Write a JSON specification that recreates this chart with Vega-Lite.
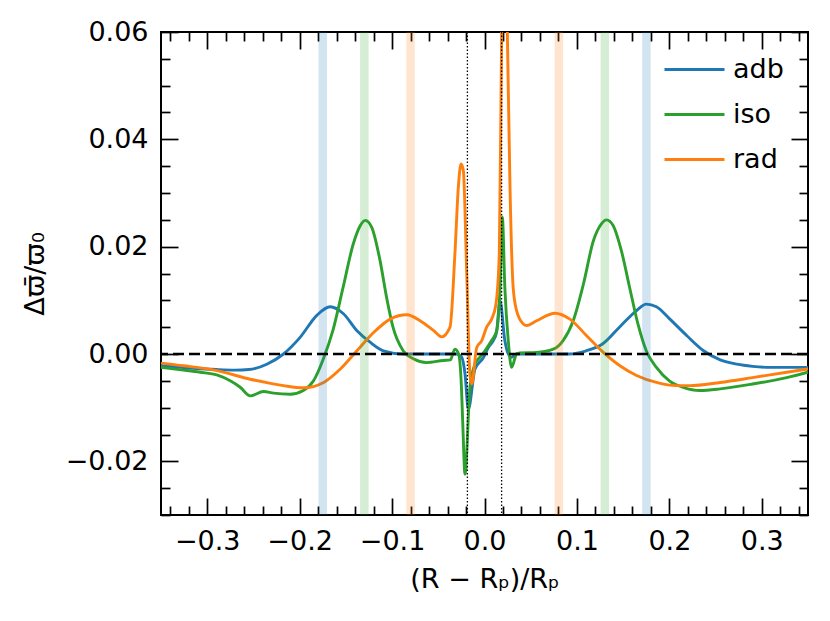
{
  "$schema": "https://vega.github.io/schema/vega-lite/v6.json",
  "width": 647,
  "height": 483,
  "autosize": "none",
  "padding": {"left": 161, "top": 32, "right": 22, "bottom": 106},
  "background": "white",
  "datasets": {
    "curves": [
      {"x": -0.35, "y": -0.0022, "model": "adb"},
      {"x": -0.32, "y": -0.0026, "model": "adb"},
      {"x": -0.29, "y": -0.0029, "model": "adb"},
      {"x": -0.27, "y": -0.003, "model": "adb"},
      {"x": -0.255, "y": -0.0029, "model": "adb"},
      {"x": -0.2355, "y": -0.0019, "model": "adb"},
      {"x": -0.2175, "y": 0.0, "model": "adb"},
      {"x": -0.1995, "y": 0.0031, "model": "adb"},
      {"x": -0.1814, "y": 0.0072, "model": "adb"},
      {"x": -0.167, "y": 0.0088, "model": "adb"},
      {"x": -0.1526, "y": 0.0075, "model": "adb"},
      {"x": -0.1382, "y": 0.0044, "model": "adb"},
      {"x": -0.1238, "y": 0.0022, "model": "adb"},
      {"x": -0.1094, "y": 0.0006, "model": "adb"},
      {"x": -0.0877, "y": 0.0, "model": "adb"},
      {"x": -0.05, "y": 0.0, "model": "adb"},
      {"x": -0.03, "y": 0.0, "model": "adb"},
      {"x": -0.0247, "y": -0.0006, "model": "adb"},
      {"x": -0.0211, "y": -0.0037, "model": "adb"},
      {"x": -0.0175, "y": -0.0103, "model": "adb"},
      {"x": -0.0103, "y": -0.0028, "model": "adb"},
      {"x": -0.0013, "y": -0.0007, "model": "adb"},
      {"x": 0.0041, "y": 0.0012, "model": "adb"},
      {"x": 0.0095, "y": 0.0025, "model": "adb"},
      {"x": 0.013, "y": 0.004, "model": "adb"},
      {"x": 0.0168, "y": 0.0099, "model": "adb"},
      {"x": 0.022, "y": 0.0025, "model": "adb"},
      {"x": 0.0257, "y": 0.0, "model": "adb"},
      {"x": 0.029, "y": -0.0006, "model": "adb"},
      {"x": 0.0347, "y": 0.0, "model": "adb"},
      {"x": 0.06, "y": 0.0, "model": "adb"},
      {"x": 0.092, "y": 0.0, "model": "adb"},
      {"x": 0.11, "y": 0.0006, "model": "adb"},
      {"x": 0.128, "y": 0.0019, "model": "adb"},
      {"x": 0.146, "y": 0.005, "model": "adb"},
      {"x": 0.1645, "y": 0.0081, "model": "adb"},
      {"x": 0.175, "y": 0.0093, "model": "adb"},
      {"x": 0.186, "y": 0.0088, "model": "adb"},
      {"x": 0.2, "y": 0.0066, "model": "adb"},
      {"x": 0.219, "y": 0.0034, "model": "adb"},
      {"x": 0.237, "y": 0.0006, "model": "adb"},
      {"x": 0.255, "y": -0.0011, "model": "adb"},
      {"x": 0.273, "y": -0.0019, "model": "adb"},
      {"x": 0.29, "y": -0.0023, "model": "adb"},
      {"x": 0.309, "y": -0.0025, "model": "adb"},
      {"x": 0.35, "y": -0.0025, "model": "adb"},

      {"x": -0.35, "y": -0.0025, "model": "iso"},
      {"x": -0.3256, "y": -0.003, "model": "iso"},
      {"x": -0.3076, "y": -0.0034, "model": "iso"},
      {"x": -0.2896, "y": -0.0039, "model": "iso"},
      {"x": -0.2751, "y": -0.005, "model": "iso"},
      {"x": -0.2643, "y": -0.0062, "model": "iso"},
      {"x": -0.2535, "y": -0.0078, "model": "iso"},
      {"x": -0.2391, "y": -0.007, "model": "iso"},
      {"x": -0.2283, "y": -0.0073, "model": "iso"},
      {"x": -0.2103, "y": -0.0075, "model": "iso"},
      {"x": -0.196, "y": -0.0068, "model": "iso"},
      {"x": -0.185, "y": -0.005, "model": "iso"},
      {"x": -0.175, "y": -0.0012, "model": "iso"},
      {"x": -0.164, "y": 0.0044, "model": "iso"},
      {"x": -0.153, "y": 0.0124, "model": "iso"},
      {"x": -0.142, "y": 0.0205, "model": "iso"},
      {"x": -0.1345, "y": 0.0239, "model": "iso"},
      {"x": -0.129, "y": 0.0249, "model": "iso"},
      {"x": -0.122, "y": 0.0236, "model": "iso"},
      {"x": -0.113, "y": 0.0174, "model": "iso"},
      {"x": -0.106, "y": 0.0106, "model": "iso"},
      {"x": -0.099, "y": 0.005, "model": "iso"},
      {"x": -0.088, "y": 0.0006, "model": "iso"},
      {"x": -0.077, "y": -0.0009, "model": "iso"},
      {"x": -0.0625, "y": -0.0016, "model": "iso"},
      {"x": -0.0445, "y": -0.0012, "model": "iso"},
      {"x": -0.037, "y": -0.0011, "model": "iso"},
      {"x": -0.032, "y": 0.0009, "model": "iso"},
      {"x": -0.028, "y": 0.0, "model": "iso"},
      {"x": -0.025, "y": -0.006, "model": "iso"},
      {"x": -0.0235, "y": -0.013, "model": "iso"},
      {"x": -0.0211, "y": -0.0224, "model": "iso"},
      {"x": -0.0157, "y": -0.0062, "model": "iso"},
      {"x": -0.0103, "y": -0.0019, "model": "iso"},
      {"x": -0.0049, "y": -0.0006, "model": "iso"},
      {"x": 0.0005, "y": 0.0006, "model": "iso"},
      {"x": 0.0077, "y": 0.0025, "model": "iso"},
      {"x": 0.0131, "y": 0.0043, "model": "iso"},
      {"x": 0.0168, "y": 0.0124, "model": "iso"},
      {"x": 0.0193, "y": 0.0255, "model": "iso"},
      {"x": 0.022, "y": 0.0124, "model": "iso"},
      {"x": 0.0257, "y": 0.0025, "model": "iso"},
      {"x": 0.0293, "y": -0.0025, "model": "iso"},
      {"x": 0.0347, "y": 0.0, "model": "iso"},
      {"x": 0.038, "y": 0.0002, "model": "iso"},
      {"x": 0.0564, "y": 0.0003, "model": "iso"},
      {"x": 0.0744, "y": 0.0009, "model": "iso"},
      {"x": 0.085, "y": 0.0025, "model": "iso"},
      {"x": 0.096, "y": 0.0062, "model": "iso"},
      {"x": 0.107, "y": 0.013, "model": "iso"},
      {"x": 0.1178, "y": 0.0211, "model": "iso"},
      {"x": 0.1267, "y": 0.0243, "model": "iso"},
      {"x": 0.132, "y": 0.025, "model": "iso"},
      {"x": 0.139, "y": 0.024, "model": "iso"},
      {"x": 0.148, "y": 0.0193, "model": "iso"},
      {"x": 0.157, "y": 0.0124, "model": "iso"},
      {"x": 0.166, "y": 0.0056, "model": "iso"},
      {"x": 0.175, "y": 0.0006, "model": "iso"},
      {"x": 0.186, "y": -0.0025, "model": "iso"},
      {"x": 0.2, "y": -0.005, "model": "iso"},
      {"x": 0.215, "y": -0.0062, "model": "iso"},
      {"x": 0.233, "y": -0.0068, "model": "iso"},
      {"x": 0.255, "y": -0.0065, "model": "iso"},
      {"x": 0.29, "y": -0.0056, "model": "iso"},
      {"x": 0.327, "y": -0.0044, "model": "iso"},
      {"x": 0.35, "y": -0.0034, "model": "iso"},

      {"x": -0.35, "y": -0.0017, "model": "rad"},
      {"x": -0.3256, "y": -0.0022, "model": "rad"},
      {"x": -0.2896, "y": -0.0031, "model": "rad"},
      {"x": -0.2535, "y": -0.0047, "model": "rad"},
      {"x": -0.2175, "y": -0.0059, "model": "rad"},
      {"x": -0.196, "y": -0.0063, "model": "rad"},
      {"x": -0.174, "y": -0.0053, "model": "rad"},
      {"x": -0.156, "y": -0.0028, "model": "rad"},
      {"x": -0.138, "y": 0.0006, "model": "rad"},
      {"x": -0.12, "y": 0.004, "model": "rad"},
      {"x": -0.102, "y": 0.0065, "model": "rad"},
      {"x": -0.084, "y": 0.0073, "model": "rad"},
      {"x": -0.0697, "y": 0.0062, "model": "rad"},
      {"x": -0.0553, "y": 0.0044, "model": "rad"},
      {"x": -0.0463, "y": 0.0032, "model": "rad"},
      {"x": -0.0373, "y": 0.005, "model": "rad"},
      {"x": -0.032, "y": 0.0187, "model": "rad"},
      {"x": -0.0283, "y": 0.0311, "model": "rad"},
      {"x": -0.0254, "y": 0.0354, "model": "rad"},
      {"x": -0.0229, "y": 0.0342, "model": "rad"},
      {"x": -0.0193, "y": 0.0155, "model": "rad"},
      {"x": -0.0157, "y": -0.004, "model": "rad"},
      {"x": -0.0138, "y": -0.0056, "model": "rad"},
      {"x": -0.0084, "y": 0.0012, "model": "rad"},
      {"x": -0.003, "y": 0.0025, "model": "rad"},
      {"x": 0.0023, "y": 0.005, "model": "rad"},
      {"x": 0.0077, "y": 0.0065, "model": "rad"},
      {"x": 0.0124, "y": 0.0093, "model": "rad"},
      {"x": 0.016, "y": 0.0187, "model": "rad"},
      {"x": 0.0186, "y": 0.06, "model": "rad"},
      {"x": 0.0215, "y": 0.085, "model": "rad"},
      {"x": 0.0247, "y": 0.06, "model": "rad"},
      {"x": 0.0276, "y": 0.031, "model": "rad"},
      {"x": 0.031, "y": 0.0124, "model": "rad"},
      {"x": 0.0347, "y": 0.0081, "model": "rad"},
      {"x": 0.042, "y": 0.0056, "model": "rad"},
      {"x": 0.0456, "y": 0.0053, "model": "rad"},
      {"x": 0.0564, "y": 0.0062, "model": "rad"},
      {"x": 0.0762, "y": 0.0076, "model": "rad"},
      {"x": 0.0924, "y": 0.0065, "model": "rad"},
      {"x": 0.1105, "y": 0.0034, "model": "rad"},
      {"x": 0.1285, "y": 0.0003, "model": "rad"},
      {"x": 0.1465, "y": -0.0022, "model": "rad"},
      {"x": 0.1645, "y": -0.004, "model": "rad"},
      {"x": 0.186, "y": -0.0053, "model": "rad"},
      {"x": 0.208, "y": -0.0059, "model": "rad"},
      {"x": 0.222, "y": -0.0059, "model": "rad"},
      {"x": 0.255, "y": -0.0053, "model": "rad"},
      {"x": 0.29, "y": -0.0044, "model": "rad"},
      {"x": 0.327, "y": -0.0034, "model": "rad"},
      {"x": 0.35, "y": -0.0028, "model": "rad"}
    ],
    "bands": [
      {"x0": -0.1796, "x1": -0.1704, "model": "adb"},
      {"x0": 0.1706, "x1": 0.1798, "model": "adb"},
      {"x0": -0.1346, "x1": -0.1254, "model": "iso"},
      {"x0": 0.1256, "x1": 0.1348, "model": "iso"},
      {"x0": -0.0846, "x1": -0.0754, "model": "rad"},
      {"x0": 0.0758, "x1": 0.085, "model": "rad"}
    ],
    "marks": [
      {"x": -0.0185},
      {"x": 0.0185}
    ]
  },
  "layer": [
    {
      "data": {"name": "curves"},
      "mark": {"type": "line", "strokeWidth": 2.9, "interpolate": "monotone", "clip": true},
      "encoding": {
        "x": {
          "field": "x", "type": "quantitative",
          "scale": {"domain": [-0.35, 0.35], "nice": false, "zero": false},
          "axis": {
            "orient": "bottom",
            "values": [-0.34, -0.32, -0.3, -0.28, -0.26, -0.24, -0.22, -0.2, -0.18, -0.16, -0.14, -0.12, -0.1, -0.08, -0.06, -0.04, -0.02, 0, 0.02, 0.04, 0.06, 0.08, 0.1, 0.12, 0.14, 0.16, 0.18, 0.2, 0.22, 0.24, 0.26, 0.28, 0.3, 0.32, 0.34],
            "tickSize": {"condition": {"test": "abs(datum.value * 10 - round(datum.value * 10)) < 1e-6", "value": -17}, "value": -9},
            "labelExpr": "abs(datum.value * 10 - round(datum.value * 10)) < 1e-6 ? format(datum.value, '.1f') : ''",
            "title": "(R − Rₚ)/Rₚ"
          }
        },
        "y": {
          "field": "y", "type": "quantitative",
          "scale": {"domain": [-0.03, 0.06], "nice": false, "zero": false},
          "axis": {
            "orient": "left",
            "values": [-0.03, -0.025, -0.02, -0.015, -0.01, -0.005, 0, 0.005, 0.01, 0.015, 0.02, 0.025, 0.03, 0.035, 0.04, 0.045, 0.05, 0.055, 0.06],
            "tickSize": {"condition": {"test": "abs(datum.value * 50 - round(datum.value * 50)) < 1e-6", "value": -17}, "value": -9},
            "labelExpr": "abs(datum.value * 50 - round(datum.value * 50)) < 1e-6 ? format(datum.value, '.2f') : ''",
            "title": "Δϖ̄/ϖ₀",
            "titlePadding": 16
          }
        },
        "color": {
          "field": "model", "type": "nominal",
          "scale": {"domain": ["adb", "iso", "rad"], "range": ["#1f77b4", "#2ca02c", "#ff7f0e"]},
          "legend": {"title": null}
        }
      }
    },
    {
      "data": {"name": "bands"},
      "mark": {"type": "rect", "opacity": 0.2},
      "encoding": {
        "x": {"field": "x0", "type": "quantitative", "scale": {"domain": [-0.35, 0.35], "nice": false, "zero": false}, "axis": null},
        "x2": {"field": "x1"},
        "fill": {
          "field": "model", "type": "nominal",
          "scale": {"domain": ["adb", "iso", "rad"], "range": ["#1f77b4", "#2ca02c", "#ff7f0e"]},
          "legend": null
        }
      }
    },
    {
      "data": {"name": "marks"},
      "mark": {"type": "rule", "color": "black", "strokeWidth": 1.3, "strokeDash": [1.5, 2]},
      "encoding": {
        "x": {
          "field": "x", "type": "quantitative",
          "scale": {"domain": [-0.35, 0.35], "nice": false, "zero": false},
          "axis": {
            "orient": "top",
            "values": [-0.34, -0.32, -0.3, -0.28, -0.26, -0.24, -0.22, -0.2, -0.18, -0.16, -0.14, -0.12, -0.1, -0.08, -0.06, -0.04, -0.02, 0, 0.02, 0.04, 0.06, 0.08, 0.1, 0.12, 0.14, 0.16, 0.18, 0.2, 0.22, 0.24, 0.26, 0.28, 0.3, 0.32, 0.34],
            "tickSize": {"condition": {"test": "abs(datum.value * 10 - round(datum.value * 10)) < 1e-6", "value": -17}, "value": -9},
            "labels": false,
            "title": null
          }
        }
      }
    },
    {
      "data": {"values": [{"y": 0}]},
      "mark": {"type": "rule", "color": "black", "strokeWidth": 2.6, "strokeDash": [11, 5]},
      "encoding": {
        "y": {
          "field": "y", "type": "quantitative",
          "scale": {"domain": [-0.03, 0.06], "nice": false, "zero": false},
          "axis": {
            "orient": "right",
            "values": [-0.03, -0.025, -0.02, -0.015, -0.01, -0.005, 0, 0.005, 0.01, 0.015, 0.02, 0.025, 0.03, 0.035, 0.04, 0.045, 0.05, 0.055, 0.06],
            "tickSize": {"condition": {"test": "abs(datum.value * 50 - round(datum.value * 50)) < 1e-6", "value": -17}, "value": -9},
            "labels": false,
            "title": null
          }
        }
      }
    }
  ],
  "resolve": {"axis": {"x": "independent", "y": "independent"}},
  "config": {
    "font": "DejaVu Sans",
    "view": {"stroke": "black", "strokeWidth": 2},
    "axis": {
      "domain": false,
      "grid": false,
      "ticks": true,
      "tickColor": "black",
      "tickWidth": 1.7,
      "labelFont": "DejaVu Sans",
      "labelFontSize": 27,
      "labelColor": "black",
      "labelPadding": 30,
      "labelFlush": false,
      "labelOverlap": false,
      "titleFont": "DejaVu Sans",
      "titleFontSize": 27,
      "titleFontWeight": "normal",
      "titleColor": "black"
    },
    "legend": {
      "orient": "none",
      "legendX": 502,
      "legendY": 6,
      "symbolType": "stroke",
      "symbolSize": 3600,
      "symbolStrokeWidth": 2.9,
      "labelFont": "DejaVu Sans",
      "labelFontSize": 27,
      "labelColor": "black",
      "labelOffset": 7,
      "rowPadding": -18
    }
  }
}
